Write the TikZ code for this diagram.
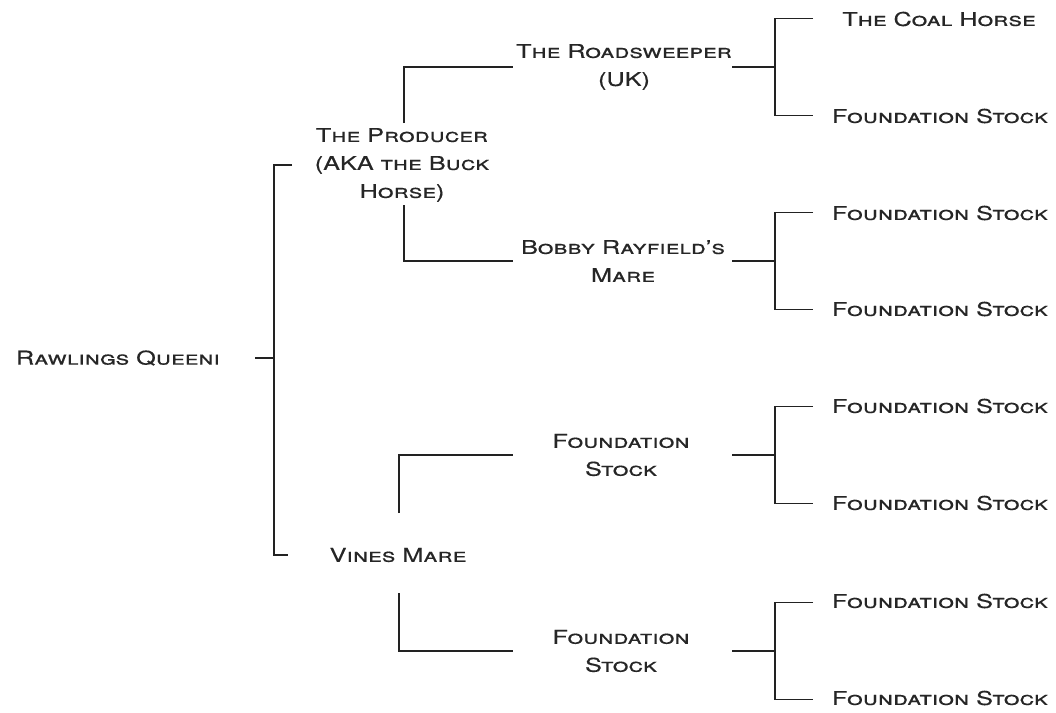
\documentclass[tikz,border=0pt]{standalone}
\usepackage{fontspec}
\setmainfont{TeX Gyre Heros}[FakeStretch=1.33,FakeBold=0.4]
\definecolor{txt}{HTML}{262626}
\definecolor{ln}{HTML}{222222}
\begin{document}
\begin{tikzpicture}[x=1pt,y=-1pt,
  lbl/.style={text=txt,font=\fontsize{19}{28}\selectfont\scshape,align=center,inner sep=0pt},
  conn/.style={draw=ln,line width=1.7pt}]
\useasboundingbox (0,0) rectangle (1056,712);
% names
\node[lbl] (root) at (118,358) {Rawlings Queeni};
\node[lbl] (prod) at (402,165) {The Producer\\(AKA the Buck\\Horse)};
\node[lbl] (vines) at (398,555) {Vines Mare};
\node[lbl] (road) at (624,67) {The Roadsweeper\\(UK)};
\node[lbl] (bobby) at (623,261) {Bobby Rayfield’s\\Mare};
\node[lbl] (fs1) at (621,455) {Foundation\\Stock};
\node[lbl] (fs2) at (621,651) {Foundation\\Stock};
\node[lbl] (g1) at (939,19) {The Coal Horse};
\node[lbl] (g2) at (940,116) {Foundation Stock};
\node[lbl] (g3) at (940,213) {Foundation Stock};
\node[lbl] (g4) at (940,309) {Foundation Stock};
\node[lbl] (g5) at (940,406) {Foundation Stock};
\node[lbl] (g6) at (940,503) {Foundation Stock};
\node[lbl] (g7) at (940,601) {Foundation Stock};
\node[lbl] (g8) at (940,698) {Foundation Stock};
% root connectors
\coordinate (rootR) at (255,358);
\coordinate (rootJ) at (274,358);
\coordinate (prodL) at (292,165);
\coordinate (vinesL) at (288,555);
\draw[conn] (rootR) -- (rootJ);
\draw[conn] (prodL) -| (rootJ) |- (vinesL);
% generation 1 to 2
\coordinate (prodT) at (404,123);
\coordinate (prodB) at (404,205);
\coordinate (roadL) at (513,67);
\coordinate (bobbyL) at (513,261);
\draw[conn] (prodT) |- (roadL);
\draw[conn] (prodB) |- (bobbyL);
\coordinate (vinesT) at (399,513);
\coordinate (vinesB) at (399,593);
\coordinate (fs1L) at (513,455);
\coordinate (fs2L) at (513,651);
\draw[conn] (vinesT) |- (fs1L);
\draw[conn] (vinesB) |- (fs2L);
% generation 2 to 3
\foreach \p/\a/\b/\y in {road/g1/g2/67, bobby/g3/g4/261, fs1/g5/g6/455, fs2/g7/g8/651}{
  \coordinate (\p R) at (732,\y);
  \coordinate (\p J) at (775,\y);
  \coordinate (\a L) at (813,\y-48.5);
  \coordinate (\b L) at (813,\y+48.5);
  \draw[conn] (\p R) -- (\p J);
  \draw[conn] (\a L) -| (\p J) |- (\b L);
}
\end{tikzpicture}
\end{document}
